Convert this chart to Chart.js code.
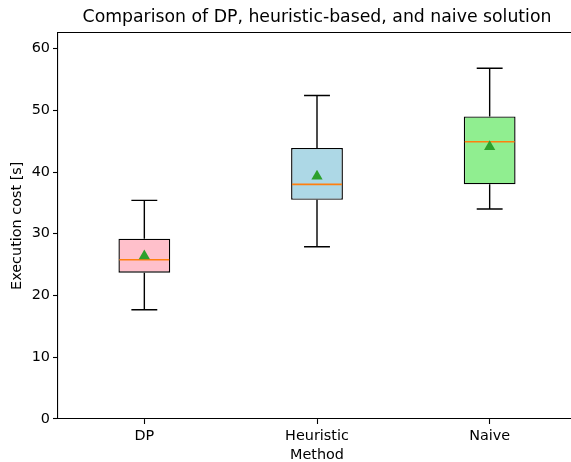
<!DOCTYPE html>
<html>
<head>
<meta charset="utf-8">
<script src="https://cdn.jsdelivr.net/npm/chart.js@4.4.0/dist/chart.umd.min.js"></script>
<style>
  html, body { margin: 0; padding: 0; background: #fff; overflow: hidden; }
  #marco { width: 571px; height: 462px; overflow: hidden; position: relative; }
  canvas { display: block; position: absolute; left: 0; top: 0; }
</style>
</head>
<body>
<div id="marco"><canvas id="grafico" width="576" height="462"></canvas></div>
<script>
// datos
const metodos = ["DP", "Heuristic", "Naive"];
const minimos = [17.7, 27.9, 34.0];
const cuartil1 = [23.7, 35.5, 38.0];
const medianas = [25.8, 38.0, 44.9];
const cuartil3 = [29.2, 43.9, 49.0];
const maximos = [35.4, 52.4, 56.8];
const medias = [26.4, 39.3, 44.1];
const colores = ["#ffc0cb", "#add8e6", "#90ee90"];
const ticksY = [0, 10, 20, 30, 40, 50, 60];
const limiteY = 62.6;

const fuente = "'DejaVu Sans', sans-serif";

// bigotes, medianas y borde superior
const bigotes = {
  id: "bigotes",
  afterDatasetDraw(chart, args) {
    if (args.index !== 0) return;
    const ctx = chart.ctx;
    const x = chart.scales.x;
    const y = chart.scales.y;
    const anchoCat = x.getPixelForValue(1) - x.getPixelForValue(0);
    const medioCaja = anchoCat * 0.3 / 2;
    const medioTope = anchoCat * 0.15 / 2;
    ctx.save();
    ctx.lineWidth = 1.4;
    ctx.strokeStyle = "#000";
    metodos.forEach(function (m, i) {
      const cx = x.getPixelForValue(i);
      ctx.beginPath();
      ctx.moveTo(cx, y.getPixelForValue(cuartil3[i]));
      ctx.lineTo(cx, y.getPixelForValue(maximos[i]));
      ctx.moveTo(cx, y.getPixelForValue(cuartil1[i]));
      ctx.lineTo(cx, y.getPixelForValue(minimos[i]));
      ctx.moveTo(cx - medioTope, y.getPixelForValue(maximos[i]));
      ctx.lineTo(cx + medioTope, y.getPixelForValue(maximos[i]));
      ctx.moveTo(cx - medioTope, y.getPixelForValue(minimos[i]));
      ctx.lineTo(cx + medioTope, y.getPixelForValue(minimos[i]));
      ctx.stroke();
    });
    ctx.strokeStyle = "#ff7f0e";
    ctx.lineWidth = 1.6;
    metodos.forEach(function (m, i) {
      const cx = x.getPixelForValue(i);
      const py = y.getPixelForValue(medianas[i]);
      ctx.beginPath();
      ctx.moveTo(cx - medioCaja + 1, py);
      ctx.lineTo(cx + medioCaja - 1, py);
      ctx.stroke();
    });
    ctx.restore();
  },
  afterDraw(chart) {
    const ctx = chart.ctx;
    const area = chart.chartArea;
    ctx.save();
    ctx.strokeStyle = "#000";
    ctx.lineWidth = 1.1;
    ctx.beginPath();
    ctx.moveTo(area.left, area.top);
    ctx.lineTo(area.right, area.top);
    ctx.lineTo(area.right, area.bottom);
    ctx.stroke();
    ctx.restore();
  },
};

const ctx = document.getElementById("grafico").getContext("2d");
const grafico = new Chart(ctx, {
  data: {
    labels: metodos,
    datasets: [
      {
        type: "bar",
        label: "Caja",
        data: metodos.map(function (m, i) { return [cuartil1[i], cuartil3[i]]; }),
        backgroundColor: colores,
        borderColor: "#000",
        borderWidth: 1.4,
        borderSkipped: false,
        barPercentage: 0.3,
        categoryPercentage: 1,
        order: 2,
      },
      {
        type: "line",
        label: "Media",
        data: medias,
        showLine: false,
        pointStyle: "triangle",
        pointRadius: 6.5,
        pointBackgroundColor: "#2ca02c",
        pointBorderColor: "#2ca02c",
        pointBorderWidth: 0,
        order: 1,
      },
    ],
  },
  options: {
    responsive: false,
    animation: false,
    devicePixelRatio: 1,
    layout: { autoPadding: false, padding: { left: 0, right: 0, top: 0, bottom: 0 } },
    plugins: {
      legend: { display: false },
      tooltip: { enabled: false },
      title: {
        display: true,
        fullSize: false,
        text: "Comparison of DP, heuristic-based, and naive solution",
        color: "#000",
        font: { family: fuente, size: 17.3, weight: "normal" },
        padding: { top: 7.6, bottom: 4.1 },
      },
    },
    scales: {
      x: {
        type: "category",
        offset: true,
        grid: { drawOnChartArea: false, offset: false, tickLength: 5, tickColor: "#000", tickWidth: 1.1 },
        border: { color: "#000", width: 1.1 },
        ticks: { color: "#000", font: { family: fuente, size: 14.4 }, padding: 3.7 },
        title: {
          display: true,
          text: "Method",
          color: "#000",
          font: { family: fuente, size: 14.4 },
          padding: { top: 0, bottom: -1.6 },
        },
        afterFit: function (s) {
          s.height = 43;
          s.paddingLeft = 0;
          s.paddingRight = 0;
        },
      },
      y: {
        type: "linear",
        min: 0,
        max: limiteY,
        grid: { drawOnChartArea: false, tickLength: 5, tickColor: "#000", tickWidth: 1.1 },
        border: { color: "#000", width: 1.1 },
        ticks: { autoSkip: false, color: "#000", font: { family: fuente, size: 14.4 }, padding: 3 },
        title: {
          display: true,
          text: "Execution cost [s]",
          color: "#000",
          font: { family: fuente, size: 14.4 },
          padding: { top: 8.4, bottom: 4 },
        },
        afterBuildTicks: function (s) {
          s.ticks = ticksY.map(function (v) { return { value: v }; });
        },
        afterFit: function (s) { s.width = 58; },
      },
    },
  },
  plugins: [bigotes],
});
</script>
</body>
</html>
